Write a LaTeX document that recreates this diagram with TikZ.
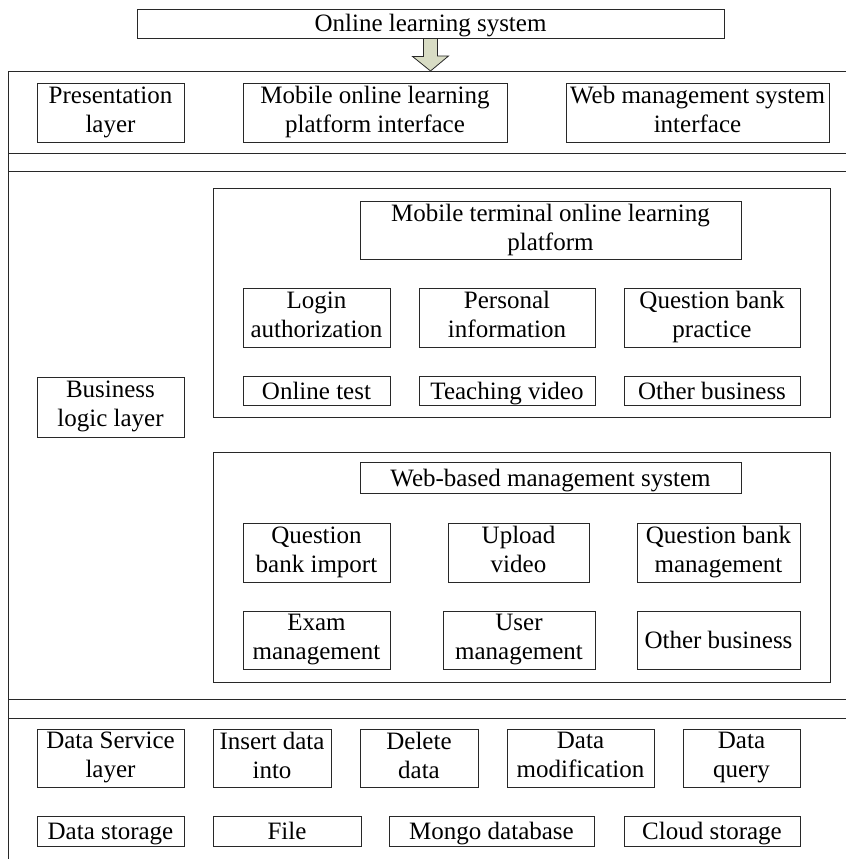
\documentclass[tikz,border=0pt]{standalone}
\usepackage{fontspec}
\setmainfont{Liberation Serif}
\definecolor{arrowfill}{RGB}{216,220,196}
\definecolor{linecol}{RGB}{40,40,40}
\newcommand\boxstrut{\rule[-6pt]{0pt}{29pt}}
\begin{document}
\begin{tikzpicture}[x=1pt,y=-1pt,
  box/.style={draw=linecol, line width=0.9pt, inner sep=0pt, align=center,
    font=\fontsize{25}{29}\selectfont,
    execute at begin node=\boxstrut, execute at end node=\boxstrut},
  emptybox/.style={draw=linecol, line width=0.9pt, inner sep=0pt},
  frameline/.style={draw=linecol, line width=0.9pt},
  blockarrow/.style={draw=linecol, line width=0.8pt, fill=arrowfill, line join=miter}]
\useasboundingbox (0,0) rectangle (846,859);

% title and arrow
\node[box, minimum width=587pt, minimum height=29pt] (title) at (430.5,23.5) {Online learning system};
\coordinate (frameTL) at (8,71);
\coordinate (frameTR) at (846,71);
\coordinate (frameBL) at (8,859);
\draw[blockarrow] ([xshift=-7pt]title.south) -- ++(0,18) -- ++(-11,0) -- (430.5,71) -- ++(18,-15) -- ++(-11,0) -- ([xshift=7pt]title.south) -- cycle;

% frame
\draw[frameline] (frameTR) -- (frameTL) -- (frameBL);
\draw[frameline] (8,153) -- (846,153);
\draw[frameline] (8,171) -- (846,171);
\draw[frameline] (8,699) -- (846,699);
\draw[frameline] (8,718) -- (846,718);

% presentation layer
\node[box, minimum width=147pt, minimum height=59pt] (pres) at (110.5,112.5) {Presentation\\layer};
\node[box, minimum width=264pt, minimum height=59pt] (mobint) at (375,112.5) {Mobile online learning\\platform interface};
\node[box, minimum width=263pt, minimum height=59pt] (webint) at (697.5,112.5) {Web management system\\interface};

% business logic layer
\node[box, minimum width=147pt, minimum height=60pt] (bll) at (110.5,407) {Business\\logic layer};

\node[emptybox, minimum width=617pt, minimum height=229pt] (mobout) at (521.5,302.5) {};
\node[box, minimum width=381pt, minimum height=58pt] (mobterm) at (550.5,230) {Mobile terminal online learning\\platform};
\node[box, minimum width=147pt, minimum height=59pt] (login) at (316.5,317.5) {Login\\authorization};
\node[box, minimum width=176pt, minimum height=59pt] (personal) at (507,317.5) {Personal\\information};
\node[box, minimum width=176pt, minimum height=59pt] (qbp) at (712,317.5) {Question bank\\practice};
\node[box, minimum width=147pt, minimum height=28pt] (otest) at (316.5,391) {Online test};
\node[box, minimum width=176pt, minimum height=28pt] (teach) at (507,391) {Teaching video};
\node[box, minimum width=176pt, minimum height=28pt] (otherA) at (712,391) {Other business};

\node[emptybox, minimum width=617pt, minimum height=230pt] (webout) at (521.5,567) {};
\node[box, minimum width=381pt, minimum height=31pt] (webbased) at (550.5,477.5) {Web-based management system};
\node[box, minimum width=147pt, minimum height=59pt] (qbi) at (316.5,552.5) {Question\\bank import};
\node[box, minimum width=141pt, minimum height=59pt] (upload) at (518.5,552.5) {Upload\\video};
\node[box, minimum width=163pt, minimum height=59pt] (qbm) at (718.5,552.5) {Question bank\\management};
\node[box, minimum width=147pt, minimum height=58pt] (exam) at (316.5,640) {Exam\\management};
\node[box, minimum width=152pt, minimum height=58pt] (user) at (519,640) {User\\management};
\node[box, minimum width=163pt, minimum height=58pt] (otherB) at (718.5,640) {Other business};

% data service layer
\node[box, minimum width=147pt, minimum height=58pt] (dsl) at (110.5,758) {Data Service\\layer};
\node[box, minimum width=118pt, minimum height=58pt] (insert) at (272,758) {Insert data\\into};
\node[box, minimum width=118pt, minimum height=58pt] (delete) at (419,758) {Delete\\data};
\node[box, minimum width=147pt, minimum height=58pt] (modif) at (580.5,758) {Data\\modification};
\node[box, minimum width=117pt, minimum height=58pt] (query) at (741.5,758) {Data\\query};
\node[box, minimum width=147pt, minimum height=30pt] (storage) at (110.5,831) {Data storage};
\node[box, minimum width=148pt, minimum height=30pt] (file) at (287,831) {File};
\node[box, minimum width=205pt, minimum height=30pt] (mongo) at (491.5,831) {Mongo database};
\node[box, minimum width=176pt, minimum height=30pt] (cloud) at (712,831) {Cloud storage};
\end{tikzpicture}
\end{document}
